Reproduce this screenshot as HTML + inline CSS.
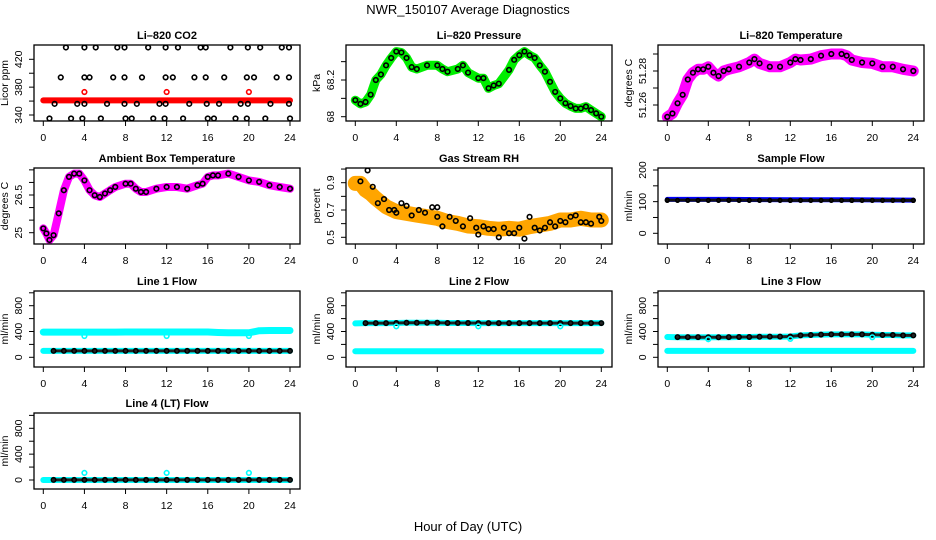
<!DOCTYPE html>
<html><head><meta charset="utf-8">
<style>
html,body{margin:0;padding:0;background:#fff;}
svg{display:block;font-family:"Liberation Sans",Arial,sans-serif;}
</style></head>
<body>
<svg id="chart" width="936" height="540" viewBox="0 0 936 540" xmlns="http://www.w3.org/2000/svg">
<rect width="936" height="540" fill="#fff"/>
<text x="468" y="14" text-anchor="middle" font-size="13">NWR_150107  Average Diagnostics</text>
<text x="468" y="531" text-anchor="middle" font-size="13">Hour of Day (UTC)</text>
</svg>
<script>
// ---- data ----
const xTicks = [0,4,8,12,16,20,24];
// CO2
const co2RedT = [0,24];
const co2RedV = [361,361];
const co2SpikeT = [4,12,20];
const co2SpikeV = [373,373,373];
const co2HiT = [2.2,4,5.1,7.2,7.9,10.2,11.9,13.1,15.3,15.8,18.2,19.9,21.1,23.2,23.9];
const co2MidT = [1.7,4,4.5,6.8,7.9,9.6,11.9,12.6,14.7,15.8,17.6,19.8,20.5,22.7,23.9];
const co2LowT = [1.1,3.3,4,6.2,7.9,9.1,11.3,11.9,14.2,15.9,17.1,19.2,19.9,22.1,23.9];
const co2BotT = [0.6,2.7,3.8,5.6,8,8.6,10.7,11.8,13.6,16,16.6,18.7,19.8,21.6,24];
const co2Levels = [437,394,356,335];
// Pressure
const presT = [0,0.5,1,1.5,2,2.5,3,3.5,4,4.5,5,5.5,6,7,8,8.5,9,10,10.5,11,12,12.5,13,13.5,14,15,15.5,16,16.5,17,17.5,18,18.5,19,19.5,20,20.5,21,21.5,22,22.5,23,23.5,24];
const presV = [68.09,68.07,68.08,68.12,68.2,68.23,68.28,68.32,68.355,68.35,68.32,68.27,68.26,68.28,68.28,68.26,68.245,68.26,68.28,68.24,68.21,68.21,68.155,68.17,68.18,68.255,68.31,68.335,68.355,68.335,68.32,68.28,68.245,68.19,68.135,68.1,68.073,68.058,68.045,68.045,68.055,68.036,68.018,68.0];
// Li-820 temperature
const tempT = [0,0.5,1,1.5,2,2.5,3,3.5,4,4.5,5,5.5,6,7,8,8.5,9,10,11,12,12.5,13,14,15,16,17,17.5,18,19,20,21,22,23,24];
const tempV = [51.253,51.255,51.261,51.266,51.275,51.279,51.281,51.281,51.2825,51.279,51.277,51.28,51.281,51.2825,51.285,51.287,51.2845,51.2825,51.2825,51.285,51.287,51.2865,51.287,51.289,51.29,51.29,51.289,51.2865,51.285,51.2845,51.2825,51.2825,51.281,51.28];
// Ambient box temperature
const ambT = [0,0.3,0.6,1,1.5,2,2.5,3,3.5,4,4.5,5,5.5,6,6.5,7,8,8.5,9,9.5,10,11,12,13,14,15,15.5,16,16.5,17,18,19,20,21,22,23,24];
const ambV = [25.17,24.97,24.71,24.9,25.77,26.69,27.22,27.35,27.35,27.08,26.69,26.49,26.42,26.56,26.69,26.82,26.95,26.95,26.75,26.62,26.62,26.75,26.82,26.82,26.75,26.89,26.95,27.22,27.28,27.28,27.35,27.22,27.08,27.02,26.89,26.82,26.75];
// Gas stream RH
const rhBandT = [0,0.5,1,1.5,2,3,4,5,6,7,8,9,10,11,12,13,14,15,16,17,18,19,20,21,22,23,24];
const rhBandV = [0.895,0.895,0.846,0.82,0.785,0.724,0.688,0.676,0.663,0.651,0.639,0.615,0.602,0.583,0.578,0.566,0.559,0.566,0.559,0.578,0.59,0.602,0.627,0.627,0.639,0.627,0.627];
const rhPtT = [0.5,1.2,1.7,2.2,2.8,3.3,3.8,4,4.5,5,5.5,6.2,6.8,7.5,8,8,8.5,9.2,9.8,10.5,11.2,11.8,12,12.5,13,13.5,14,14.5,15,15.5,16,16.5,17,17.5,18,18.5,19,19.5,20,20.5,21,21.5,22,22.5,23,23.8,24];
const rhPtV = [0.91,0.99,0.87,0.75,0.78,0.70,0.70,0.68,0.75,0.73,0.66,0.70,0.68,0.72,0.72,0.65,0.58,0.65,0.62,0.58,0.64,0.57,0.52,0.58,0.56,0.56,0.50,0.57,0.53,0.53,0.57,0.49,0.65,0.57,0.55,0.57,0.61,0.58,0.62,0.61,0.65,0.66,0.61,0.61,0.60,0.65,0.62];
// Sample flow
const sfT = [0,6,12,18,24];
const sfBlue = [107,107,106,106,105];
const sfBlack = [105,105,104,104,104];
// Line flows (hourly)
const hrs = [0,1,2,3,4,5,6,7,8,9,10,11,12,13,14,15,16,17,18,19,20,21,22,23,24];
const l1Cyan = [390,390,390,390,390,390,390,390,392,392,392,392,392,392,392,392,392,385,380,380,380,412,415,415,415];
const l1Low = [100,100,100,100,100,100,100,100,100,100,100,100,100,100,100,100,100,100,100,100,100,100,100,100,100];
const l1Black = [100,100,100,100,100,100,100,100,100,100,100,100,100,100,100,100,100,100,100,100,100,100,100,100,100];
const l2Cyan = [525,530,530,530,532,535,535,535,535,532,532,532,530,530,530,530,530,530,530,530,530,530,530,530,530];
const l2Low = [95,95,95,95,95,95,95,95,95,95,95,95,95,95,95,95,95,95,95,95,95,95,95,95,95];
const l2Black = [530,530,530,530,532,535,535,535,535,532,532,532,530,530,530,530,530,530,530,530,530,530,530,530,530];
const l3Cyan = [315,312,312,312,310,310,312,315,315,318,320,320,322,340,345,352,355,355,355,355,350,345,345,340,340];
const l3Low = [100,100,100,100,100,100,100,100,100,100,100,100,100,100,100,100,100,100,100,100,100,100,100,100,100];
const l3Black = [315,312,312,312,310,310,312,315,315,318,320,320,322,340,345,352,355,355,355,355,350,345,345,340,340];
const l4Cyan = [0,0,0,0,0,0,0,0,0,0,0,0,0,0,0,0,0,0,0,0,0,0,0,0,0];
const l4Black = [2,2,2,2,2,2,2,2,2,2,2,2,2,2,2,2,2,2,2,2,2,2,2,2,2];
const dipT = [4,12,20];
const l1Dip = [330,330,330];
const l2Dip = [480,480,480];
const l3Dip = [280,285,310];
const l4Spike = [110,110,110];

// ---- drawing ----
const NS = "http://www.w3.org/2000/svg";
const svg = document.getElementById('chart');
function mk(tag, attrs, parent){
  const e = document.createElementNS(NS, tag);
  for (const k in attrs) e.setAttribute(k, attrs[k]);
  (parent||svg).appendChild(e);
  return e;
}
const cols = [{l:34,r:300,x0:43.3,x24:290},{l:346,r:612,x0:355.3,x24:601.3},{l:658,r:924,x0:667.3,x24:913.3}];
const rows = [{t:45,b:121},{t:168,b:244},{t:291,b:367},{t:413,b:489}];

function panel(name, title, ylab, col, row, v1, p1, v2, p2, ticks, labels){
  const c = cols[col], r = rows[row];
  const g = mk('g', {});
  
  
  const X = h => c.x0 + (c.x24 - c.x0) * h / 24;
  const Y = v => p1 + (p2 - p1) * (v - v1) / (v2 - v1);
  const clipId = 'clip-' + name;
  const cp = mk('clipPath', {id: clipId}, g);
  mk('rect', {x:c.l, y:r.t, width:c.r-c.l, height:r.b-r.t}, cp);
  const data = mk('g', {'clip-path':'url(#'+clipId+')'}, g);
  
  
  const box = mk('rect', {x:c.l, y:r.t, width:c.r-c.l, height:r.b-r.t, fill:'none', stroke:'#000', 'stroke-width':1.3}, g);
  
  
  const tt = mk('text', {x:(c.l+c.r)/2, y:r.t-6, 'text-anchor':'middle', 'font-size':11, 'font-weight':'bold'}, g);
  tt.textContent = title;
  
  
  xTicks.forEach(h => {
    mk('line', {x1:X(h), x2:X(h), y1:r.b, y2:r.b+5, stroke:'#000'}, g);
    const t = mk('text', {x:X(h), y:r.b+20, 'text-anchor':'middle', 'font-size':10.5}, g);
    t.textContent = h;
    
    
  });
  ticks.forEach(v => {
    const y = Y(v);
    if (y < r.t - 0.5 || y > r.b + 0.5) return;
    mk('line', {x1:c.l-5, x2:c.l, y1:y, y2:y, stroke:'#000'}, g);
  });
  labels.forEach(v => {
    const y = Y(v), x = c.l - 12;
    const t = mk('text', {x:x, y:y, 'text-anchor':'middle', 'font-size':10.5, transform:'rotate(-90 '+x+' '+y+')'}, g);
    t.textContent = String(v);
    
    
  });
  const lx = c.l - 26, ly = (r.t + r.b) / 2;
  const yl = mk('text', {x:lx, y:ly, 'text-anchor':'middle', 'font-size':10.5, transform:'rotate(-90 '+lx+' '+ly+')'}, g);
  yl.textContent = ylab;
  
  
  return {X, Y, g:data};
}
function band(p, T, V, color, w, nm){
  const pts = T.map((t,i) => p.X(t).toFixed(1)+','+p.Y(V[i]).toFixed(1)).join(' ');
  const e = mk('polyline', {points:pts, fill:'none', stroke:color, 'stroke-width':w, 'stroke-linejoin':'round', 'stroke-linecap':'round'}, p.g);
  
  
}
function pts(p, T, V, color, rad, nm){
  T.forEach((t,i) => {
    const e = mk('circle', {cx:p.X(t), cy:p.Y(V[i]), r:rad, fill:'none', stroke:color, 'stroke-width':1.6}, p.g);
    
    
  });
}

// CO2
let p = panel('co2-panel','Li\u2013820 CO2','Licor ppm',0,0,340,115,420,59.3,[340,360,380,400,420],[340,380,420]);
band(p, co2RedT, co2RedV, '#ff0000', 6, 'co2-red-band');
pts(p, co2SpikeT, co2SpikeV, '#ff0000', 2.3, 'co2-red-point');
[co2HiT, co2MidT, co2LowT, co2BotT].forEach((T,k) => pts(p, T, T.map(()=>co2Levels[k]), '#000', 2.3, 'co2-point'));

// Pressure
p = panel('pressure-panel','Li\u2013820 Pressure','kPa',1,0,68.0,116.7,68.2,80,[68.0,68.1,68.2,68.3],[68.0,68.2]);
band(p, presT, presV, '#00ee00', 9, 'pressure-band');
pts(p, presT, presV, '#000', 2.3, 'pressure-point');

// Li-820 temperature
p = panel('li820-temp-panel','Li\u2013820 Temperature','degrees C',2,0,51.26,105,51.28,71,[51.26,51.27,51.28,51.29],[51.26,51.28]);
band(p, tempT, tempV, '#ff00ff', 11, 'temp-band');
pts(p, tempT, tempV, '#000', 2.3, 'temp-point');

// Ambient
p = panel('ambient-temp-panel','Ambient Box Temperature','degrees C',0,1,25.0,232.7,26.5,195,[25.0,25.5,26.0,26.5,27.0,27.5],[25.0,26.5]);
band(p, ambT, ambV, '#ff00ff', 8, 'ambient-band');
pts(p, ambT, ambV, '#000', 2.3, 'ambient-point');

// RH
p = panel('rh-panel','Gas Stream RH','percent',1,1,0.5,237.3,0.9,182.7,[0.5,0.6,0.7,0.8,0.9,1.0],[0.5,0.7,0.9]);
band(p, rhBandT, rhBandV, '#ffa500', 15, 'rh-band');
pts(p, rhPtT, rhPtV, '#000', 2.3, 'rh-point');

// Sample flow
p = panel('sample-flow-panel','Sample Flow','ml/min',2,1,0,233.3,200,170,[0,50,100,150,200],[0,100,200]);
band(p, sfT, sfBlue, '#0000ff', 5, 'sample-flow-blue');
band(p, sfT, sfBlack, '#111', 3, 'sample-flow-black');
pts(p, sfT.concat(hrs), sfBlack.concat(hrs.map(()=>104)), '#000', 1.8, 'sample-flow-point');

const fTicks = [0,200,400,600,800,1000], fLabels = [0,400,800];
// Line 1
p = panel('line1-panel','Line 1 Flow','ml/min',0,2,0,357.3,800,305.7,fTicks,fLabels);
band(p, hrs, l1Cyan, '#00ffff', 7, 'line1-cyan-upper');
band(p, hrs, l1Low, '#00ffff', 6, 'line1-cyan-lower');
band(p, hrs.slice(1), l1Black.slice(1), '#222', 3, 'line1-black');
pts(p, hrs.slice(1), l1Black.slice(1), '#000', 2.2, 'line1-point');
pts(p, dipT, l1Dip, '#00ffff', 2.3, 'line1-dip');
// Line 2
p = panel('line2-panel','Line 2 Flow','ml/min',1,2,0,357.3,800,305.7,fTicks,fLabels);
band(p, hrs, l2Cyan, '#00ffff', 6, 'line2-cyan-upper');
band(p, hrs, l2Low, '#00ffff', 6, 'line2-cyan-lower');
band(p, hrs.slice(1), l2Black.slice(1), '#222', 3, 'line2-black');
pts(p, hrs.slice(1), l2Black.slice(1), '#000', 2.2, 'line2-point');
pts(p, dipT, l2Dip, '#00ffff', 2.3, 'line2-dip');
// Line 3
p = panel('line3-panel','Line 3 Flow','ml/min',2,2,0,357.3,800,305.7,fTicks,fLabels);
band(p, hrs, l3Cyan, '#00ffff', 6, 'line3-cyan-upper');
band(p, hrs, l3Low, '#00ffff', 6, 'line3-cyan-lower');
band(p, hrs.slice(1), l3Black.slice(1), '#222', 3, 'line3-black');
pts(p, hrs.slice(1), l3Black.slice(1), '#000', 2.2, 'line3-point');
pts(p, dipT, l3Dip, '#00ffff', 2.3, 'line3-dip');
// Line 4
p = panel('line4-panel','Line 4 (LT) Flow','ml/min',0,3,0,480,800,428.3,fTicks,fLabels);
band(p, hrs, l4Cyan, '#00ffff', 6, 'line4-cyan');
band(p, hrs.slice(1), l4Black.slice(1), '#222', 3, 'line4-black');
pts(p, hrs.slice(1), l4Black.slice(1), '#000', 2.2, 'line4-point');
pts(p, dipT, l4Spike, '#00ffff', 2.3, 'line4-spike');
</script>
</body></html>
